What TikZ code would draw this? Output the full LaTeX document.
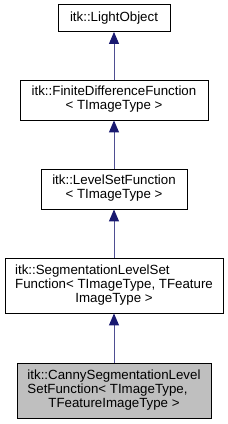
\documentclass[tikz,border=0pt]{standalone}
\usepackage{fontspec}
\setmainfont{Liberation Sans}
\usetikzlibrary{arrows.meta}
\definecolor{edgeblue}{HTML}{191970}
\definecolor{edgeline}{HTML}{4E4E92}
\definecolor{focusgray}{HTML}{BFBFBF}
\newcommand{\doxyfont}{\fontsize{13.3}{14}\selectfont}
\tikzset{
  classbox/.style={
    draw=black,
    fill=#1,
    line width=0.9pt,
    inner sep=0pt,
    align=center,
    font=\doxyfont
  },
  classbox/.default=white,
  inherit/.style={
    draw=edgeline,
    line width=1pt,
    -{Triangle[length=12pt,width=10pt,color=edgeblue]}
  }
}

\begin{document}
\begin{tikzpicture}[x=1pt,y=-1pt]
  \path[use as bounding box] (0,0) rectangle (228,424);

  \node[classbox, minimum width=112pt, minimum height=27pt]
    (lightobject) at (114,18) {itk::LightObject};
  \node[classbox, minimum width=188pt, minimum height=40pt]
    (finitediff) at (114,100)
    {\begin{tabular}{@{}c@{}}itk::FiniteDifferenceFunction\\ \textless{} TImageType \textgreater\end{tabular}};
  \node[classbox, minimum width=146pt, minimum height=40pt]
    (levelset) at (114,189)
    {\begin{tabular}{@{}c@{}}itk::LevelSetFunction\\ \textless{} TImageType \textgreater\end{tabular}};
  \node[classbox, minimum width=218pt, minimum height=55pt]
    (seglevelset) at (114,285.5)
    {\begin{tabular}{@{}l@{}}itk::SegmentationLevelSet\\
     Function\textless{} TImageType, TFeature\\
     \multicolumn{1}{@{}c@{}}{ImageType \textgreater}\end{tabular}};
  \node[classbox=focusgray, minimum width=194pt, minimum height=55pt]
    (canny) at (114,390.5)
    {\begin{tabular}{@{}l@{}}itk::CannySegmentationLevel\\
     SetFunction\textless{} TImageType,\\
     \multicolumn{1}{@{}c@{}}{TFeatureImageType \textgreater}\end{tabular}};

  \draw[inherit] (finitediff.north) -- (lightobject.south);
  \draw[inherit] (levelset.north) -- (finitediff.south);
  \draw[inherit] (seglevelset.north) -- (levelset.south);
  \draw[inherit] (canny.north) -- (seglevelset.south);
\end{tikzpicture}
\end{document}
